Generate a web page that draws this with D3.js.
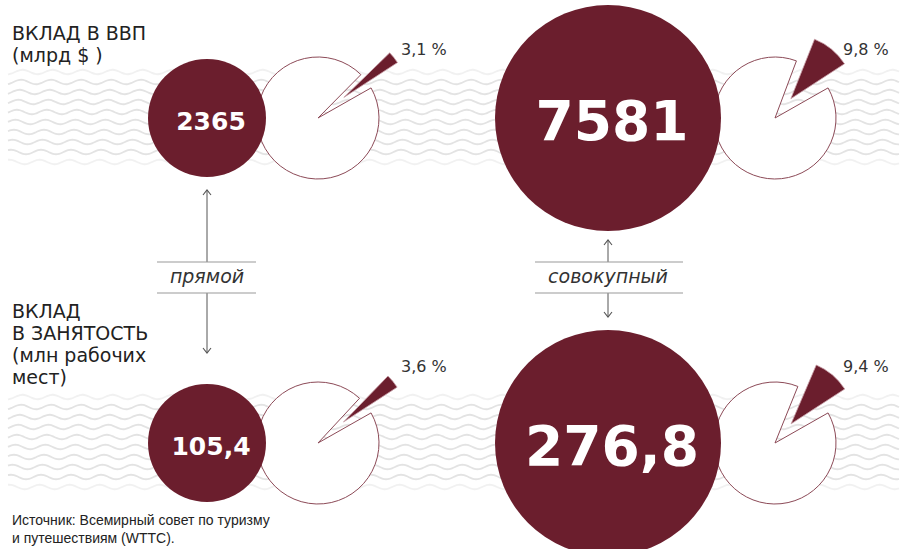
<!DOCTYPE html>
<html>
<head>
<meta charset="utf-8">
<script src="https://cdn.jsdelivr.net/npm/d3@7"></script>
<style>
  body { margin: 0; background: #fff; }
  svg { display: block; }
</style>
</head>
<body>
<svg id="chart"></svg>
<script>
// data
let groups = ['прямой', 'совокупный']
let rows = ['gdp', 'jobs']
let gdpValues = ['2365', '7581']
let gdpShares = [3.1, 9.8]
let jobValues = ['105,4', '276,8']
let jobShares = [3.6, 9.4]
let rowTitles = [['ВКЛАД В ВВП', '(млрд $ )'], ['ВКЛАД', 'В ЗАНЯТОСТЬ', '(млн рабочих', 'мест)']]
let source = ['Источник: Всемирный совет по туризму', 'и путешествиям (WTTC).']

let width = 900
let height = 549
let wine = '#6b1e2d'

let svg = d3.select('#chart').attr('width', width).attr('height', height)

let xScale, pieX, labelX, yScale, labelY, rScale, fontScale, angle

function drawScale(){
    xScale = d3.scaleOrdinal().domain(groups).range([207, 608])
    pieX = d3.scaleOrdinal().domain(groups).range([318, 775])
    labelX = d3.scaleOrdinal().domain(groups).range([401, 843])
    yScale = d3.scaleOrdinal().domain(rows).range([118, 443])
    labelY = d3.scaleOrdinal().domain(rows).range([55, 372])
    rScale = d3.scaleOrdinal().domain(groups).range([59, 113])
    fontScale = d3.scaleOrdinal().domain(groups).range([25, 55])
    angle = d3.scaleLinear().domain([0, 100]).range([0, 2 * Math.PI])
}

// light wavy background bands
function drawWaves(){
    let g = svg.append('g')
    rows.forEach(function(r){
        let y0 = yScale(r) - 46
        for (let i = 0; i < 10; i++){
            let y = y0 + i * 10
            let pts = []
            for (let x = 8; x <= 900; x += 3){
                pts.push([x, y + 2.4 * Math.sin(x / 30 * 2 * Math.PI + i * 0.3)])
            }
            g.append('path')
                .attr('d', d3.line().curve(d3.curveBasis)(pts))
                .attr('fill', 'none')
                .attr('stroke', '#e3e3e3')
                .attr('stroke-width', 1.8)
                .attr('opacity', (i === 0 || i === 9) ? 0.5 : 1)
        }
    })
}

function drawPies(){
    let items = []
    groups.forEach(function(grp, i){
        items.push({grp: grp, row: 'gdp', value: gdpValues[i], share: gdpShares[i]})
        items.push({grp: grp, row: 'jobs', value: jobValues[i], share: jobShares[i]})
    })
    let endA = 57 * Math.PI / 180
    let pieR = 61

    items.forEach(function(d){
        let cx = pieX(d.grp), cy = yScale(d.row)
        let s = endA - angle(d.share)
        let mid = (s + endA) / 2
        let g = svg.append('g').attr('transform', 'translate(' + cx + ',' + cy + ')')
        // rest of the pie
        g.append('path')
            .attr('d', d3.arc().innerRadius(0).outerRadius(pieR)
                .startAngle(endA + 0.06).endAngle(s + 2 * Math.PI - 0.02)())
            .attr('fill', '#fff')
            .attr('stroke', '#8c4a57')
            .attr('stroke-width', 1)
        // pulled out slice
        let off = d.share < 5 ? 33 : 25
        g.append('path')
            .attr('transform', 'translate(' + (off * Math.sin(mid)) + ',' + (-off * Math.cos(mid)) + ')')
            .attr('d', d3.arc().innerRadius(0).outerRadius(pieR + 3)
                .startAngle(s).endAngle(endA)())
            .attr('fill', wine)
            .attr('stroke', '#c9a0a8')
            .attr('stroke-width', 0.8)
        svg.append('text')
            .attr('x', labelX(d.grp)).attr('y', labelY(d.row))
            .attr('font-family', 'DejaVu Sans, sans-serif')
            .attr('font-size', 16)
            .attr('fill', '#333')
            .text(String(d.share).replace('.', ',') + ' %')
    })

    svg.selectAll('circle.big')
        .data(items)
        .enter()
        .append('circle')
        .attr('class', 'big')
        .attr('cx', d => xScale(d.grp))
        .attr('cy', d => yScale(d.row))
        .attr('r', d => rScale(d.grp))
        .attr('fill', wine)

    svg.selectAll('text.val')
        .data(items)
        .enter()
        .append('text')
        .attr('class', 'val')
        .attr('x', d => xScale(d.grp) + 4)
        .attr('y', d => yScale(d.row) + 3)
        .attr('text-anchor', 'middle')
        .attr('dominant-baseline', 'central')
        .attr('font-family', 'DejaVu Sans, sans-serif')
        .attr('font-weight', 'bold')
        .attr('font-size', d => fontScale(d.grp))
        .attr('fill', '#fff')
        .text(d => d.value)
}

function drawLinks(){
    let defs = svg.append('defs')
    defs.append('marker')
        .attr('id', 'head').attr('viewBox', '-7 -6 9 12')
        .attr('refX', 0).attr('refY', 0)
        .attr('markerWidth', 9).attr('markerHeight', 12)
        .attr('markerUnits', 'userSpaceOnUse')
        .attr('orient', 'auto')
        .append('path').attr('d', 'M-5,-4L0,0L-5,4')
        .attr('fill', 'none').attr('stroke', '#555').attr('stroke-width', 1.1)

    let spans = [[157, 256], [535, 683]]
    let ends = [[190, 353], [240, 317]]
    groups.forEach(function(grp, i){
        let x = xScale(grp)
        let g = svg.append('g')
        g.append('line').attr('x1', x).attr('x2', x).attr('y1', 262).attr('y2', ends[i][0])
            .attr('stroke', '#555').attr('marker-end', 'url(#head)')
        g.append('line').attr('x1', x).attr('x2', x).attr('y1', 293).attr('y2', ends[i][1])
            .attr('stroke', '#555').attr('marker-end', 'url(#head)')
        ;[262, 293].forEach(function(y){
            g.append('line').attr('x1', spans[i][0]).attr('x2', spans[i][1])
                .attr('y1', y).attr('y2', y).attr('stroke', '#999').attr('stroke-width', 1.2)
        })
        g.append('text')
            .attr('x', x).attr('y', 283)
            .attr('text-anchor', 'middle')
            .attr('font-family', 'DejaVu Sans, sans-serif')
            .attr('font-style', 'italic')
            .attr('font-size', 19)
            .attr('fill', '#333')
            .text(grp)
    })
}

function drawTexts(){
    let starts = [40, 318]
    rowTitles.forEach(function(lines, r){
        lines.forEach(function(t, j){
            svg.append('text')
                .attr('x', 12).attr('y', starts[r] + j * 22)
                .attr('font-family', 'DejaVu Sans, sans-serif')
                .attr('font-size', 19)
                .attr('fill', '#222')
                .text(t)
        })
    })
    source.forEach(function(t, j){
        svg.append('text')
            .attr('x', 12).attr('y', 525 + j * 18)
            .attr('font-family', 'Liberation Sans, Arial, sans-serif')
            .attr('font-size', 14)
            .attr('fill', '#222')
            .text(t)
    })
}

drawScale()
drawWaves()
drawPies()
drawLinks()
drawTexts()
</script>
</body>
</html>
